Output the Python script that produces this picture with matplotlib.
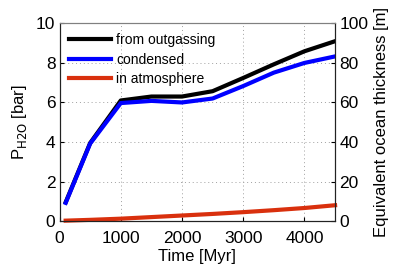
import numpy as np
import matplotlib.pyplot as plt

plt.rcParams['font.family'] = ['Liberation Sans', 'DejaVu Sans']

# time in Myr
time = [100, 500, 1000, 1500, 2000, 2500, 3000, 3500, 4000, 4500]
# water pressure in bar
p_outgassed = [0.95, 3.95, 6.1, 6.3, 6.3, 6.57, 7.24, 7.93, 8.59, 9.1]
p_condensed = [0.92, 3.92, 5.97, 6.08, 6.0, 6.2, 6.83, 7.51, 8.0, 8.33]
p_atmosphere = [0.02, 0.06, 0.12, 0.2, 0.28, 0.36, 0.45, 0.55, 0.66, 0.8]

xticks = [0, 1000, 2000, 3000, 4000]
yticks = [0, 2, 4, 6, 8, 10]
yticks_right = [0, 20, 40, 60, 80, 100]

fig = plt.figure(figsize=(3.97, 2.66), dpi=100)
ax = fig.add_axes([0.150, 0.169, 0.694, 0.743])

ax.plot(time, p_outgassed, color='black', lw=3, label='from outgassing')
ax.plot(time, p_condensed, color='#0000ff', lw=3, label='condensed')
ax.plot(time, p_atmosphere, color='#d9300d', lw=3, label='in atmosphere', clip_on=False)

ax.set_xlim(0, 4500)
ax.set_ylim(0, 10)
ax.set_xticks(xticks)
ax.set_yticks(yticks)
ax.grid(True, ls=(0, (1, 3)), color='#a0a0a0', lw=0.7)
ax.tick_params(direction='in', labelsize=12.5, length=3, top=False, pad=3)
ax.tick_params(axis='x', pad=7)
ax.set_xlabel('Time [Myr]', fontsize=12, labelpad=2)
ax.set_ylabel(r'P$_{\mathrm{H2O}}$ [bar]', fontsize=12, labelpad=5)

leg = ax.legend(loc='upper left', frameon=False, fontsize=10, handlelength=3.0,
                handletextpad=0.4, labelspacing=0.4, borderaxespad=0.3)

ax2 = ax.twinx()
ax2.set_ylim(0, 100)
ax2.set_yticks(yticks_right)
ax2.tick_params(direction='in', labelsize=12.5, length=3, pad=3)
ax2.set_ylabel('Equivalent ocean thickness [m]', fontsize=12, labelpad=4)

for a in (ax, ax2):
    for s in a.spines.values():
        s.set_color('#222222')
        s.set_linewidth(0.8)
ax.spines['top'].set_color('#808080')
ax2.spines['top'].set_color('#808080')

fig.savefig('out.png', dpi=100)
